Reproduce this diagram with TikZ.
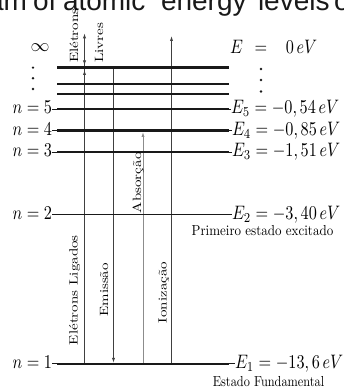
\documentclass[tikz,border=0pt]{standalone}
\usepackage{fontspec}
\usepackage{graphicx}
\usetikzlibrary{arrows.meta}
\newfontfamily\webfont{Liberation Sans}
\newcommand{\mlab}[1]{\scalebox{1.62}[1.95]{$#1$}}
\newcommand{\rlab}[1]{\scalebox{1.5}[1.2]{#1}}
\begin{document}
\begin{tikzpicture}[x=1pt,y=-1pt,
  lab/.style={inner sep=0pt,outer sep=0pt},
  levelline/.style={line width=2.4pt,draw=black!90},
  thinlevel/.style={line width=1.3pt,draw=black!90},
  stub/.style={line width=0.8pt,draw=black!90},
  vline/.style={line width=0.8pt,draw=black!75},
  gline/.style={line width=0.8pt,draw=black!45},
  tip/.style={-{Latex[length=5pt,width=3.2pt]}},
  webtxt/.style={lab,font=\webfont\fontsize{28}{30}\selectfont,text=black!90}]
\useasboundingbox (0,0) rectangle (344,390);
\clip (0,0) rectangle (344,390);

% stray caption fragment at the top
\node[webtxt,anchor=base east] (w1) at (27,10.5) {am};
\node[webtxt,anchor=base west] (w2) at (33,10.5) {of};
\node[webtxt,anchor=base west] (w3) at (63,10.5) {atomic};
\node[webtxt,anchor=base west] (w4) at (161,10.5) {energy};
\node[webtxt,anchor=base west] (w5) at (258,10.5) {levels};
\node[webtxt,anchor=base west] (w6) at (334,10.5) {of};

% level coordinates
\coordinate (t0l) at (57,67.7);  \coordinate (t0r) at (229,67.7);
\coordinate (t1l) at (57,84);    \coordinate (t1r) at (229,84);
\coordinate (t2l) at (57,94);    \coordinate (t2r) at (229,94);
\coordinate (n5l) at (57,109);   \coordinate (n5r) at (229,109);
\coordinate (n4l) at (57,130.7); \coordinate (n4r) at (229,130.7);
\coordinate (n3l) at (57,152);   \coordinate (n3r) at (229,152);
\coordinate (n2l) at (57,214.3); \coordinate (n2r) at (229,214.3);
\coordinate (n1l) at (57,363.7); \coordinate (n1r) at (229,363.7);

% vertical transitions
\coordinate (lig0) at (84.5,363.7); \coordinate (lig1) at (84.5,33.3);
\coordinate (fa0) at (84.5,52);     \coordinate (fa1) at (84.5,65.5);
\coordinate (fb0) at (84.5,80);     \coordinate (fb1) at (84.5,70);
\coordinate (em0) at (113.5,67.7);  \coordinate (em1) at (113.5,362.8);
\coordinate (ab0) at (143,363.7);   \coordinate (ab1) at (143,132);
\coordinate (io0) at (171.5,363.7); \coordinate (io1) at (171.5,36);

\draw[vline,tip] (lig0) -- (lig1);
\draw[vline,tip] (fa0) -- (fa1);
\draw[vline,tip] (fb0) -- (fb1);
\draw[vline,tip] (em0) -- (em1);
\draw[gline,tip] (ab0) -- (ab1);
\draw[vline,tip] (io0) -- (io1);

% left labels
\node[lab] (inf) at (40,48) {\scalebox{1.9}[1.8]{$\infty$}};
\fill[black!90] (33,67.7) circle (1.3) (33,78.3) circle (1.3) (33,89) circle (1.3);
\node[lab,anchor=base east] (ln5) at (52,113.9) {\mlab{n=5}};
\node[lab,anchor=base east] (ln4) at (52,135.6) {\mlab{n=4}};
\node[lab,anchor=base east] (ln3) at (52,156.9) {\mlab{n=3}};
\node[lab,anchor=base east] (ln2) at (52,219.2) {\mlab{n=2}};
\node[lab,anchor=base east] (ln1) at (52,368.6) {\mlab{n=1}};

% right labels
\node[lab,anchor=base] (rE) at (236.5,53.7) {\mlab{E}};
\node[lab,anchor=base] (rEq) at (261,53.7) {\mlab{=}};
\node[lab,anchor=base] (rE0) at (301.5,53.7) {\mlab{0\,eV}};
\fill[black!90] (261,69) circle (1.3) (261,80) circle (1.3) (261,91.5) circle (1.3);
\node[lab,anchor=base west] (rE5) at (231,113.9) {\mlab{E_5=-0,54\,eV}};
\node[lab,anchor=base west] (rE4) at (232,135.6) {\mlab{E_4=-0,85\,eV}};
\node[lab,anchor=base west] (rE3) at (232,156.9) {\mlab{E_3=-1,51\,eV}};
\node[lab,anchor=base west] (rE2) at (232,219.2) {\mlab{E_2=-3,40\,eV}};
\node[lab,anchor=base west] (rE1) at (235,368.6) {\mlab{E_1=-13,6\,eV}};
\node[lab,anchor=base] (pe) at (262.5,235.8) {\scalebox{1.3}[1.45]{Primeiro estado excitado}};
\node[lab,anchor=base] (ef) at (268.5,386) {\scalebox{1.23}[1.45]{Estado Fundamental}};

% level lines
\draw[levelline] (t0l) -- (t0r);
\draw[levelline] (t1l) -- (t1r);
\draw[levelline] (t2l) -- (t2r);
\draw[stub] (ln5.east |- n5l) -- (n5l); \draw[stub] (n5r) -- (rE5.west |- n5r);
\draw[levelline] (n5l) -- (n5r);
\draw[stub] (ln4.east |- n4l) -- (n4l); \draw[stub] (n4r) -- (rE4.west |- n4r);
\draw[levelline] (n4l) -- (n4r);
\draw[stub] (ln3.east |- n3l) -- (n3l); \draw[stub] (n3r) -- (rE3.west |- n3r);
\draw[levelline] (n3l) -- (n3r);
\draw[thinlevel] (ln2.east |- n2l) -- (rE2.west |- n2r);
\draw[stub] (ln1.east |- n1l) -- (n1l); \draw[stub] (n1r) -- (rE1.west |- n1r);
\draw[levelline] (n1l) -- (n1r);

% rotated labels
\node[lab,rotate=90,anchor=base west] (el) at (78,63) {\rlab{Elétrons}};
\node[lab,rotate=90,anchor=base west] (lv) at (103,63) {\rlab{Livres}};
\node[lab,rotate=90,anchor=base west] (lg) at (77.5,345) {\rlab{Elétrons Ligados}};
\node[lab,rotate=90,anchor=base west] (ems) at (108,316.7) {\rlab{Emissão}};
\node[lab,rotate=90,anchor=base west] (abs) at (141,213) {\rlab{Absorção}};
\node[lab,rotate=90,anchor=base west] (ion) at (166.5,323) {\rlab{Ionização}};
\end{tikzpicture}
\end{document}
